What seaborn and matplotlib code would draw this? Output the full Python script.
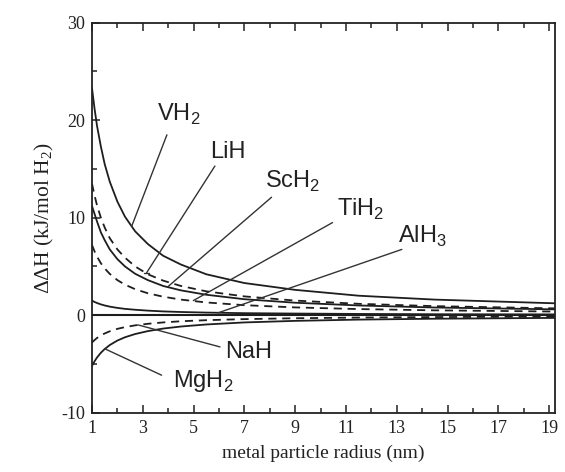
import matplotlib
matplotlib.use("Agg")
import matplotlib.pyplot as plt
import seaborn as sns
import pandas as pd

# particle radius (nm) at which each curve is sampled
radius = [1, 1.1, 1.2, 1.35, 1.5, 1.7, 2.0, 2.3, 2.7, 3.2, 3.8, 4.5, 5.5, 7, 9, 11.5, 14.5, 19.5]

# change of the hydride formation enthalpy (kJ/mol H2)
vh2 = [23.3, 21.2, 19.4, 17.3, 15.5, 13.7, 11.65, 10.1, 8.6, 7.3, 6.1, 5.2, 4.2, 3.3, 2.6, 2.0, 1.6, 1.2]
lih = [13.5, 12.3, 11.25, 10.0, 9.0, 7.9, 6.75, 5.9, 5.0, 4.2, 3.55, 3.0, 2.45, 1.93, 1.5, 1.17, 0.93, 0.69]
sch2 = [11.2, 10.4, 9.6, 8.5, 7.7, 6.75, 5.75, 5.0, 4.25, 3.6, 3.0, 2.55, 2.1, 1.64, 1.28, 1.0, 0.79, 0.59]
tih2 = [7.2, 6.55, 6.0, 5.33, 4.8, 4.24, 3.6, 3.13, 2.67, 2.25, 1.9, 1.6, 1.31, 1.03, 0.8, 0.63, 0.5, 0.37]
alh3 = [1.5, 1.36, 1.25, 1.11, 1.0, 0.88, 0.75, 0.65, 0.56, 0.47, 0.39, 0.33, 0.27, 0.21, 0.17, 0.13, 0.10, 0.08]
nah = [-2.8, -2.55, -2.33, -2.07, -1.87, -1.65, -1.4, -1.22, -1.04, -0.88, -0.74, -0.62, -0.51, -0.40, -0.31, -0.24, -0.19, -0.14]
mgh2 = [-5.2, -4.73, -4.33, -3.85, -3.47, -3.06, -2.6, -2.26, -1.93, -1.63, -1.37, -1.16, -0.95, -0.74, -0.58, -0.45, -0.36, -0.27]

x_ticks = [1, 3, 5, 7, 9, 11, 13, 15, 17, 19]
y_ticks = [-10, 0, 10, 20, 30]

series = [
    ("VH2", vh2, "-"),
    ("LiH", lih, "--"),
    ("ScH2", sch2, "-"),
    ("TiH2", tih2, "--"),
    ("AlH3", alh3, "-"),
    ("NaH", nah, "--"),
    ("MgH2", mgh2, "-"),
]

sns.set_style("ticks")
plt.rcParams["font.family"] = ["Liberation Serif", "DejaVu Serif"]
plt.rcParams["mathtext.fontset"] = "custom"
plt.rcParams["mathtext.rm"] = "Liberation Serif"

fig = plt.figure(figsize=(5.65, 4.72), dpi=100)
ax = fig.add_axes([0.1628, 0.1256, 0.8195, 0.8263])

line_color = "#1e1e1e"
for name, vals, ls in series:
    df = pd.DataFrame({"r": radius, "dH": vals})
    sns.lineplot(data=df, x="r", y="dH", ax=ax, color=line_color, lw=1.3,
                 linestyle=ls, estimator=None, sort=False, legend=False)
    if ls == "--":
        ax.lines[-1].set_dashes((4.5, 3.2))

ax.axhline(0, color=line_color, lw=1.5, zorder=1)

# labels with leader lines (text position, leader start, leader end)
sans = ["Liberation Sans", "DejaVu Sans"]
annotations = [
    ("VH$_\\mathregular{2}$", (3.55, 20.6), (3.95, 18.5), (2.56, 9.1)),
    ("LiH", (5.65, 16.7), (5.84, 15.3), (3.15, 4.35)),
    ("ScH$_\\mathregular{2}$", (7.8, 13.7), (8.07, 12.1), (4.0, 2.95)),
    ("TiH$_\\mathregular{2}$", (10.65, 10.9), (10.47, 9.5), (4.99, 1.5)),
    ("AlH$_\\mathregular{3}$", (13.05, 8.1), (13.2, 6.75), (5.97, 0.25)),
    ("NaH", (6.24, -3.8), (6.04, -3.25), (2.82, -1.0)),
    ("MgH$_\\mathregular{2}$", (4.19, -6.7), (3.74, -6.15), (1.51, -3.45)),
]
for text, tpos, p0, p1 in annotations:
    ax.plot([p0[0], p1[0]], [p0[1], p1[1]], color="#333333", lw=1.0)
    ax.text(tpos[0], tpos[1], text, family=sans, fontsize=17,
            ha="left", va="center", color="#222222")
# small cross bar at the end of the LiH leader
ax.plot([3.05, 3.25], [4.35, 4.35], color="#333333", lw=1.0)

ax.set_xlim(1, 19.23)
ax.set_ylim(-10, 30)
ax.set_xticks(x_ticks)
ax.set_xticklabels([str(v) for v in x_ticks])
ax.set_yticks(y_ticks)
ax.set_yticklabels([str(v) for v in y_ticks])
ax.set_xticks([v + 1 for v in x_ticks[:-1]], minor=True)
ax.set_yticks([-5, 5, 15, 25], minor=True)
ax.tick_params(which="both", direction="in", top=True, right=False,
               color="#222222", width=1.1)
ax.tick_params(which="major", length=6, labelsize=13, pad=5, labelcolor="#222222")
ax.tick_params(which="minor", length=3.5)

for sp in ax.spines.values():
    sp.set_visible(True)
    sp.set_color("#222222")
    sp.set_linewidth(1.3)

ax.set_xlabel("metal particle radius (nm)", fontsize=14, labelpad=6, color="#222222")
ax.set_ylabel("\u0394\u0394H (kJ/mol H$_\\mathregular{2}$)", fontsize=15.5, labelpad=4,
              color="#222222")

fig.savefig("out.png", dpi=100)
